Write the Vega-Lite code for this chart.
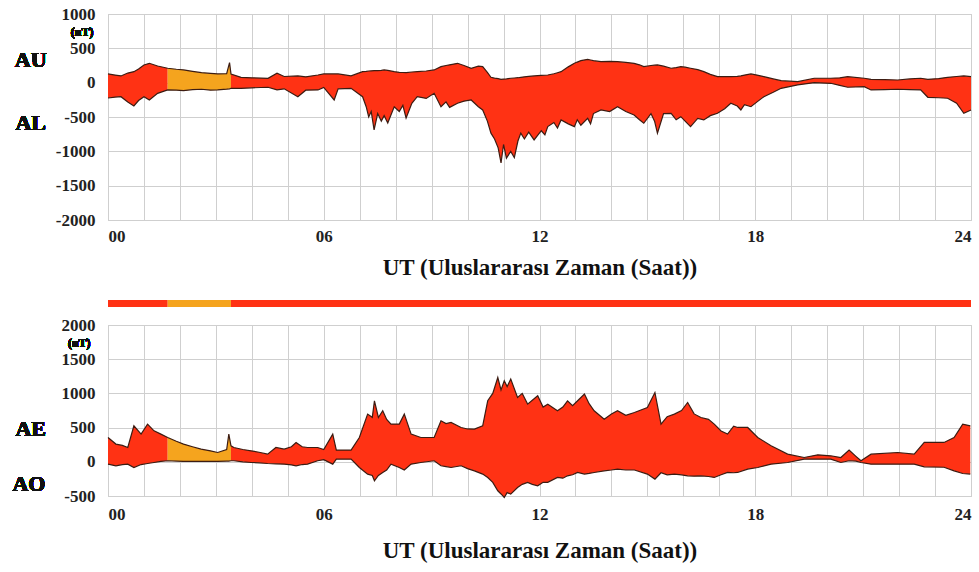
{
  "$schema": "https://vega.github.io/schema/vega-lite/v6.json",
  "background": "white",
  "padding": {"left": 11, "top": 4, "right": 5, "bottom": 5},
  "bounds": "flush",
  "spacing": 80,
  "config": {
    "view": {"stroke": "#c4c4c4"},
    "axis": {
      "domain": false, "ticks": false, "tickSize": 0, "gridColor": "#cfcfcf", "gridWidth": 1,
      "labelFont": "Liberation Serif", "labelFontWeight": "bold", "labelColor": "#222222", "labelFontSize": 17,
      "titleFont": "Liberation Serif", "titleFontWeight": "bold", "titleColor": "#111111", "titleFontSize": 23,
      "labelOverlap": false
    },
    "text": {"font": "Liberation Serif", "fontWeight": "bold", "color": "#111111"}
  },
  "datasets": {
    "au": [
      {"h": 0.0, "up": 127, "lo": -223, "seg": "r1"},
      {"h": 0.2, "up": 110, "lo": -210, "seg": "r1"},
      {"h": 0.36, "up": 98, "lo": -204, "seg": "r1"},
      {"h": 0.55, "up": 140, "lo": -280, "seg": "r1"},
      {"h": 0.72, "up": 160, "lo": -339, "seg": "r1"},
      {"h": 0.85, "up": 200, "lo": -260, "seg": "r1"},
      {"h": 1.0, "up": 258, "lo": -204, "seg": "r1"},
      {"h": 1.15, "up": 282, "lo": -252, "seg": "r1"},
      {"h": 1.38, "up": 243, "lo": -155, "seg": "r1"},
      {"h": 1.66, "up": 210, "lo": -106, "seg": "r1"},
      {"h": 1.66, "up": 210, "lo": -106, "seg": "o"},
      {"h": 1.9, "up": 195, "lo": -110, "seg": "o"},
      {"h": 2.1, "up": 185, "lo": -116, "seg": "o"},
      {"h": 2.35, "up": 165, "lo": -100, "seg": "o"},
      {"h": 2.6, "up": 146, "lo": -96, "seg": "o"},
      {"h": 2.85, "up": 135, "lo": -110, "seg": "o"},
      {"h": 3.05, "up": 127, "lo": -106, "seg": "o"},
      {"h": 3.3, "up": 130, "lo": -95, "seg": "o"},
      {"h": 3.38, "up": 291, "lo": -90, "seg": "o"},
      {"h": 3.42, "up": 127, "lo": -82, "seg": "o"},
      {"h": 3.42, "up": 127, "lo": -82, "seg": "r2"},
      {"h": 3.7, "up": 78, "lo": -82, "seg": "r2"},
      {"h": 4.0, "up": 70, "lo": -75, "seg": "r2"},
      {"h": 4.45, "up": 64, "lo": -67, "seg": "r2"},
      {"h": 4.7, "up": 137, "lo": -106, "seg": "r2"},
      {"h": 4.9, "up": 90, "lo": -90, "seg": "r2"},
      {"h": 5.28, "up": 98, "lo": -204, "seg": "r2"},
      {"h": 5.5, "up": 85, "lo": -110, "seg": "r2"},
      {"h": 5.84, "up": 112, "lo": -106, "seg": "r2"},
      {"h": 6.0, "up": 127, "lo": -70, "seg": "r2"},
      {"h": 6.29, "up": 127, "lo": -252, "seg": "r2"},
      {"h": 6.4, "up": 127, "lo": -90, "seg": "r2"},
      {"h": 6.76, "up": 98, "lo": -82, "seg": "r2"},
      {"h": 7.08, "up": 160, "lo": -204, "seg": "r2"},
      {"h": 7.18, "up": 165, "lo": -350, "seg": "r2"},
      {"h": 7.25, "up": 170, "lo": -500, "seg": "r2"},
      {"h": 7.32, "up": 172, "lo": -420, "seg": "r2"},
      {"h": 7.4, "up": 175, "lo": -689, "seg": "r2"},
      {"h": 7.5, "up": 175, "lo": -450, "seg": "r2"},
      {"h": 7.6, "up": 180, "lo": -560, "seg": "r2"},
      {"h": 7.68, "up": 185, "lo": -480, "seg": "r2"},
      {"h": 7.78, "up": 180, "lo": -587, "seg": "r2"},
      {"h": 7.96, "up": 160, "lo": -350, "seg": "r2"},
      {"h": 8.1, "up": 150, "lo": -420, "seg": "r2"},
      {"h": 8.2, "up": 148, "lo": -330, "seg": "r2"},
      {"h": 8.29, "up": 146, "lo": -514, "seg": "r2"},
      {"h": 8.45, "up": 155, "lo": -300, "seg": "r2"},
      {"h": 8.6, "up": 160, "lo": -204, "seg": "r2"},
      {"h": 8.85, "up": 170, "lo": -230, "seg": "r2"},
      {"h": 9.07, "up": 185, "lo": -155, "seg": "r2"},
      {"h": 9.26, "up": 233, "lo": -350, "seg": "r2"},
      {"h": 9.4, "up": 250, "lo": -280, "seg": "r2"},
      {"h": 9.5, "up": 260, "lo": -360, "seg": "r2"},
      {"h": 9.72, "up": 282, "lo": -300, "seg": "r2"},
      {"h": 9.9, "up": 250, "lo": -270, "seg": "r2"},
      {"h": 10.1, "up": 210, "lo": -252, "seg": "r2"},
      {"h": 10.3, "up": 240, "lo": -350, "seg": "r2"},
      {"h": 10.42, "up": 233, "lo": -398, "seg": "r2"},
      {"h": 10.55, "up": 150, "lo": -560, "seg": "r2"},
      {"h": 10.65, "up": 78, "lo": -735, "seg": "r2"},
      {"h": 10.75, "up": 65, "lo": -820, "seg": "r2"},
      {"h": 10.85, "up": 58, "lo": -950, "seg": "r2"},
      {"h": 10.93, "up": 49, "lo": -1170, "seg": "r2"},
      {"h": 11.0, "up": 52, "lo": -900, "seg": "r2"},
      {"h": 11.08, "up": 55, "lo": -1100, "seg": "r2"},
      {"h": 11.2, "up": 64, "lo": -1000, "seg": "r2"},
      {"h": 11.3, "up": 68, "lo": -1090, "seg": "r2"},
      {"h": 11.4, "up": 72, "lo": -850, "seg": "r2"},
      {"h": 11.48, "up": 78, "lo": -735, "seg": "r2"},
      {"h": 11.58, "up": 85, "lo": -820, "seg": "r2"},
      {"h": 11.7, "up": 92, "lo": -720, "seg": "r2"},
      {"h": 11.85, "up": 98, "lo": -834, "seg": "r2"},
      {"h": 12.05, "up": 105, "lo": -700, "seg": "r2"},
      {"h": 12.15, "up": 108, "lo": -760, "seg": "r2"},
      {"h": 12.23, "up": 112, "lo": -640, "seg": "r2"},
      {"h": 12.4, "up": 130, "lo": -580, "seg": "r2"},
      {"h": 12.5, "up": 145, "lo": -660, "seg": "r2"},
      {"h": 12.6, "up": 160, "lo": -543, "seg": "r2"},
      {"h": 12.8, "up": 230, "lo": -600, "seg": "r2"},
      {"h": 12.97, "up": 282, "lo": -640, "seg": "r2"},
      {"h": 13.05, "up": 300, "lo": -540, "seg": "r2"},
      {"h": 13.15, "up": 320, "lo": -620, "seg": "r2"},
      {"h": 13.34, "up": 340, "lo": -520, "seg": "r2"},
      {"h": 13.42, "up": 330, "lo": -600, "seg": "r2"},
      {"h": 13.5, "up": 320, "lo": -450, "seg": "r2"},
      {"h": 13.71, "up": 306, "lo": -397, "seg": "r2"},
      {"h": 13.95, "up": 310, "lo": -420, "seg": "r2"},
      {"h": 14.17, "up": 306, "lo": -350, "seg": "r2"},
      {"h": 14.4, "up": 295, "lo": -420, "seg": "r2"},
      {"h": 14.63, "up": 282, "lo": -470, "seg": "r2"},
      {"h": 14.78, "up": 260, "lo": -540, "seg": "r2"},
      {"h": 14.9, "up": 233, "lo": -591, "seg": "r2"},
      {"h": 15.1, "up": 250, "lo": -450, "seg": "r2"},
      {"h": 15.2, "up": 255, "lo": -560, "seg": "r2"},
      {"h": 15.28, "up": 258, "lo": -737, "seg": "r2"},
      {"h": 15.45, "up": 240, "lo": -450, "seg": "r2"},
      {"h": 15.66, "up": 210, "lo": -446, "seg": "r2"},
      {"h": 15.8, "up": 220, "lo": -540, "seg": "r2"},
      {"h": 15.93, "up": 233, "lo": -495, "seg": "r2"},
      {"h": 16.05, "up": 225, "lo": -560, "seg": "r2"},
      {"h": 16.2, "up": 210, "lo": -640, "seg": "r2"},
      {"h": 16.4, "up": 190, "lo": -520, "seg": "r2"},
      {"h": 16.57, "up": 160, "lo": -543, "seg": "r2"},
      {"h": 16.75, "up": 120, "lo": -480, "seg": "r2"},
      {"h": 16.95, "up": 87, "lo": -446, "seg": "r2"},
      {"h": 17.15, "up": 87, "lo": -380, "seg": "r2"},
      {"h": 17.32, "up": 87, "lo": -300, "seg": "r2"},
      {"h": 17.5, "up": 92, "lo": -340, "seg": "r2"},
      {"h": 17.6, "up": 98, "lo": -397, "seg": "r2"},
      {"h": 17.7, "up": 110, "lo": -320, "seg": "r2"},
      {"h": 17.88, "up": 127, "lo": -350, "seg": "r2"},
      {"h": 18.05, "up": 110, "lo": -280, "seg": "r2"},
      {"h": 18.24, "up": 87, "lo": -204, "seg": "r2"},
      {"h": 18.5, "up": 55, "lo": -140, "seg": "r2"},
      {"h": 18.72, "up": 29, "lo": -82, "seg": "r2"},
      {"h": 19.18, "up": 15, "lo": -33, "seg": "r2"},
      {"h": 19.64, "up": 64, "lo": 0, "seg": "r2"},
      {"h": 20.1, "up": 64, "lo": -9, "seg": "r2"},
      {"h": 20.35, "up": 70, "lo": -40, "seg": "r2"},
      {"h": 20.57, "up": 87, "lo": -67, "seg": "r2"},
      {"h": 21.03, "up": 64, "lo": -58, "seg": "r2"},
      {"h": 21.22, "up": 49, "lo": -106, "seg": "r2"},
      {"h": 21.6, "up": 45, "lo": -100, "seg": "r2"},
      {"h": 21.96, "up": 39, "lo": -96, "seg": "r2"},
      {"h": 22.3, "up": 55, "lo": -100, "seg": "r2"},
      {"h": 22.6, "up": 64, "lo": -106, "seg": "r2"},
      {"h": 22.8, "up": 49, "lo": -213, "seg": "r2"},
      {"h": 23.1, "up": 60, "lo": -220, "seg": "r2"},
      {"h": 23.35, "up": 78, "lo": -227, "seg": "r2"},
      {"h": 23.6, "up": 90, "lo": -300, "seg": "r2"},
      {"h": 23.8, "up": 98, "lo": -446, "seg": "r2"},
      {"h": 24.0, "up": 87, "lo": -398, "seg": "r2"}
    ],
    "ae": [
      {"h": 0.0, "up": 355, "lo": -34, "seg": "r1"},
      {"h": 0.22, "up": 259, "lo": -58, "seg": "r1"},
      {"h": 0.4, "up": 240, "lo": -40, "seg": "r1"},
      {"h": 0.55, "up": 209, "lo": -34, "seg": "r1"},
      {"h": 0.72, "up": 526, "lo": -83, "seg": "r1"},
      {"h": 0.92, "up": 405, "lo": -40, "seg": "r1"},
      {"h": 1.1, "up": 551, "lo": -25, "seg": "r1"},
      {"h": 1.28, "up": 453, "lo": -10, "seg": "r1"},
      {"h": 1.47, "up": 405, "lo": 5, "seg": "r1"},
      {"h": 1.66, "up": 355, "lo": 15, "seg": "r1"},
      {"h": 1.66, "up": 355, "lo": 15, "seg": "o"},
      {"h": 1.9, "up": 300, "lo": 10, "seg": "o"},
      {"h": 2.1, "up": 259, "lo": 5, "seg": "o"},
      {"h": 2.35, "up": 220, "lo": 5, "seg": "o"},
      {"h": 2.59, "up": 185, "lo": 5, "seg": "o"},
      {"h": 2.85, "up": 160, "lo": 8, "seg": "o"},
      {"h": 3.05, "up": 136, "lo": 5, "seg": "o"},
      {"h": 3.3, "up": 180, "lo": 10, "seg": "o"},
      {"h": 3.36, "up": 405, "lo": 10, "seg": "o"},
      {"h": 3.42, "up": 234, "lo": 15, "seg": "o"},
      {"h": 3.42, "up": 234, "lo": 15, "seg": "r2"},
      {"h": 3.5, "up": 209, "lo": 15, "seg": "r2"},
      {"h": 3.75, "up": 180, "lo": 0, "seg": "r2"},
      {"h": 3.98, "up": 161, "lo": -10, "seg": "r2"},
      {"h": 4.2, "up": 140, "lo": -15, "seg": "r2"},
      {"h": 4.44, "up": 112, "lo": -25, "seg": "r2"},
      {"h": 4.67, "up": 209, "lo": -30, "seg": "r2"},
      {"h": 4.9, "up": 185, "lo": -34, "seg": "r2"},
      {"h": 5.1, "up": 220, "lo": -45, "seg": "r2"},
      {"h": 5.23, "up": 283, "lo": -58, "seg": "r2"},
      {"h": 5.4, "up": 220, "lo": -40, "seg": "r2"},
      {"h": 5.55, "up": 209, "lo": -34, "seg": "r2"},
      {"h": 5.83, "up": 209, "lo": 15, "seg": "r2"},
      {"h": 6.0, "up": 180, "lo": 30, "seg": "r2"},
      {"h": 6.25, "up": 405, "lo": -34, "seg": "r2"},
      {"h": 6.35, "up": 171, "lo": 39, "seg": "r2"},
      {"h": 6.76, "up": 171, "lo": 39, "seg": "r2"},
      {"h": 6.99, "up": 355, "lo": -83, "seg": "r2"},
      {"h": 7.22, "up": 697, "lo": -180, "seg": "r2"},
      {"h": 7.35, "up": 650, "lo": -200, "seg": "r2"},
      {"h": 7.41, "up": 892, "lo": -278, "seg": "r2"},
      {"h": 7.52, "up": 648, "lo": -200, "seg": "r2"},
      {"h": 7.64, "up": 746, "lo": -156, "seg": "r2"},
      {"h": 7.75, "up": 620, "lo": -120, "seg": "r2"},
      {"h": 7.87, "up": 551, "lo": -34, "seg": "r2"},
      {"h": 8.1, "up": 551, "lo": -83, "seg": "r2"},
      {"h": 8.24, "up": 697, "lo": -120, "seg": "r2"},
      {"h": 8.43, "up": 405, "lo": -34, "seg": "r2"},
      {"h": 8.7, "up": 355, "lo": -10, "seg": "r2"},
      {"h": 9.07, "up": 355, "lo": 15, "seg": "r2"},
      {"h": 9.26, "up": 600, "lo": -58, "seg": "r2"},
      {"h": 9.4, "up": 560, "lo": -70, "seg": "r2"},
      {"h": 9.54, "up": 575, "lo": -83, "seg": "r2"},
      {"h": 9.82, "up": 502, "lo": -58, "seg": "r2"},
      {"h": 10.0, "up": 480, "lo": -100, "seg": "r2"},
      {"h": 10.19, "up": 478, "lo": -132, "seg": "r2"},
      {"h": 10.42, "up": 526, "lo": -180, "seg": "r2"},
      {"h": 10.56, "up": 892, "lo": -229, "seg": "r2"},
      {"h": 10.7, "up": 1000, "lo": -300, "seg": "r2"},
      {"h": 10.84, "up": 1232, "lo": -424, "seg": "r2"},
      {"h": 10.93, "up": 1050, "lo": -470, "seg": "r2"},
      {"h": 11.02, "up": 1184, "lo": -522, "seg": "r2"},
      {"h": 11.1, "up": 1100, "lo": -450, "seg": "r2"},
      {"h": 11.2, "up": 1209, "lo": -473, "seg": "r2"},
      {"h": 11.39, "up": 940, "lo": -376, "seg": "r2"},
      {"h": 11.52, "up": 1000, "lo": -330, "seg": "r2"},
      {"h": 11.67, "up": 843, "lo": -302, "seg": "r2"},
      {"h": 11.8, "up": 900, "lo": -330, "seg": "r2"},
      {"h": 11.95, "up": 965, "lo": -351, "seg": "r2"},
      {"h": 12.1, "up": 800, "lo": -300, "seg": "r2"},
      {"h": 12.23, "up": 843, "lo": -300, "seg": "r2"},
      {"h": 12.5, "up": 746, "lo": -229, "seg": "r2"},
      {"h": 12.65, "up": 800, "lo": -240, "seg": "r2"},
      {"h": 12.78, "up": 892, "lo": -205, "seg": "r2"},
      {"h": 12.92, "up": 820, "lo": -190, "seg": "r2"},
      {"h": 13.06, "up": 892, "lo": -156, "seg": "r2"},
      {"h": 13.25, "up": 990, "lo": -180, "seg": "r2"},
      {"h": 13.38, "up": 850, "lo": -170, "seg": "r2"},
      {"h": 13.52, "up": 746, "lo": -156, "seg": "r2"},
      {"h": 13.8, "up": 624, "lo": -132, "seg": "r2"},
      {"h": 14.0, "up": 700, "lo": -120, "seg": "r2"},
      {"h": 14.17, "up": 746, "lo": -107, "seg": "r2"},
      {"h": 14.4, "up": 680, "lo": -120, "seg": "r2"},
      {"h": 14.64, "up": 721, "lo": -120, "seg": "r2"},
      {"h": 15.0, "up": 794, "lo": -180, "seg": "r2"},
      {"h": 15.21, "up": 1013, "lo": -253, "seg": "r2"},
      {"h": 15.38, "up": 551, "lo": -160, "seg": "r2"},
      {"h": 15.55, "up": 660, "lo": -190, "seg": "r2"},
      {"h": 15.75, "up": 697, "lo": -180, "seg": "r2"},
      {"h": 15.95, "up": 750, "lo": -190, "seg": "r2"},
      {"h": 16.12, "up": 867, "lo": -205, "seg": "r2"},
      {"h": 16.3, "up": 700, "lo": -210, "seg": "r2"},
      {"h": 16.49, "up": 648, "lo": -205, "seg": "r2"},
      {"h": 16.7, "up": 620, "lo": -215, "seg": "r2"},
      {"h": 16.86, "up": 551, "lo": -229, "seg": "r2"},
      {"h": 17.05, "up": 450, "lo": -190, "seg": "r2"},
      {"h": 17.23, "up": 405, "lo": -156, "seg": "r2"},
      {"h": 17.4, "up": 520, "lo": -160, "seg": "r2"},
      {"h": 17.51, "up": 502, "lo": -156, "seg": "r2"},
      {"h": 17.79, "up": 502, "lo": -107, "seg": "r2"},
      {"h": 18.07, "up": 355, "lo": -83, "seg": "r2"},
      {"h": 18.44, "up": 234, "lo": -34, "seg": "r2"},
      {"h": 18.9, "up": 112, "lo": -10, "seg": "r2"},
      {"h": 19.36, "up": 63, "lo": 39, "seg": "r2"},
      {"h": 19.74, "up": 102, "lo": 39, "seg": "r2"},
      {"h": 20.1, "up": 88, "lo": 39, "seg": "r2"},
      {"h": 20.38, "up": 63, "lo": -10, "seg": "r2"},
      {"h": 20.61, "up": 171, "lo": 15, "seg": "r2"},
      {"h": 20.8, "up": 80, "lo": 10, "seg": "r2"},
      {"h": 20.94, "up": 15, "lo": -10, "seg": "r2"},
      {"h": 21.22, "up": 112, "lo": -34, "seg": "r2"},
      {"h": 21.96, "up": 136, "lo": -34, "seg": "r2"},
      {"h": 22.42, "up": 112, "lo": -34, "seg": "r2"},
      {"h": 22.7, "up": 283, "lo": -73, "seg": "r2"},
      {"h": 23.25, "up": 283, "lo": -80, "seg": "r2"},
      {"h": 23.53, "up": 355, "lo": -132, "seg": "r2"},
      {"h": 23.77, "up": 551, "lo": -171, "seg": "r2"},
      {"h": 23.98, "up": 526, "lo": -180, "seg": "r2"}
    ],
    "strip": [
      {"s": 0, "e": 1.66, "q": "r"},
      {"s": 1.66, "e": 3.42, "q": "o"},
      {"s": 3.42, "e": 24, "q": "r"}
    ]
  },
  "vconcat": [
    {
      "width": 863,
      "height": 206,
      "data": {"name": "au"},
      "layer": [
        {
          "mark": {"type": "area", "interpolate": "linear"},
          "encoding": {
            "x": {"field": "h", "type": "quantitative", "scale": {"domain": [0, 24], "nice": false, "zero": false},
              "axis": {"values": [0,1,2,3,4,5,6,7,8,9,10,11,12,13,14,15,16,17,18,19,20,21,22,23,24], "tickCount": 50, "grid": true, "labelOverlap": false,
                "labelExpr": "datum.value % 6 === 0 ? (datum.value < 10 ? '0' + datum.value : '' + datum.value) : ''",
                "labelFlush": true, "labelPadding": 8, "title": "UT (Uluslararası Zaman (Saat))", "titlePadding": 12}},
            "y": {"field": "up", "type": "quantitative", "scale": {"domain": [-2000, 1000], "nice": false, "zero": false},
              "axis": {"values": [-2000, -1500, -1000, -500, 0, 500, 1000], "tickCount": 20, "grid": true, "title": null, "labelOverlap": false,
                "labelExpr": "'' + datum.value", "labelPadding": 13, "minExtent": 60, "maxExtent": 60}},
            "y2": {"field": "lo"},
            "color": {"field": "seg", "type": "nominal", "scale": {"domain": ["r1", "o", "r2"], "range": ["#ff3214", "#f5a41e", "#ff3214"]}, "legend": null}
          }
        },
        {
          "mark": {"type": "line", "color": "#3c1c12", "strokeWidth": 1.2},
          "encoding": {"x": {"field": "h", "type": "quantitative"}, "y": {"field": "up", "type": "quantitative"}}
        },
        {
          "mark": {"type": "line", "color": "#3c1c12", "strokeWidth": 1.2},
          "encoding": {"x": {"field": "h", "type": "quantitative"}, "y": {"field": "lo", "type": "quantitative"}}
        },
        {
          "mark": {"type": "text", "text": "AU", "fontSize": 22, "align": "center", "baseline": "middle"},
          "encoding": {"x": {"datum": -2.15}, "y": {"datum": 330}}
        },
        {
          "mark": {"type": "text", "text": "AL", "fontSize": 22, "align": "center", "baseline": "middle"},
          "encoding": {"x": {"datum": -2.15}, "y": {"datum": -587}}
        },
        {
          "mark": {"type": "text", "text": "(nT)", "fontSize": 12, "align": "center", "baseline": "middle"},
          "encoding": {"x": {"datum": -0.72}, "y": {"datum": 738}}
        }
      ]
    },
    {
      "spacing": 18,
      "bounds": "flush",
      "vconcat": [
        {
          "width": 863,
          "height": 7,
          "view": {"stroke": null},
          "data": {"name": "strip"},
          "mark": "rect",
          "encoding": {
            "x": {"field": "s", "type": "quantitative", "scale": {"domain": [0, 24], "nice": false, "zero": false}, "axis": null},
            "x2": {"field": "e"},
            "y": {"datum": 0, "type": "quantitative", "scale": {"domain": [0, 1], "nice": false, "zero": false}, "axis": null},
            "y2": {"datum": 1},
            "color": {"field": "q", "type": "nominal", "scale": {"domain": ["r", "o"], "range": ["#e53a1e", "#f2a332"]}, "legend": null}
          }
        },
        {
          "width": 863,
          "height": 171,
          "data": {"name": "ae"},
          "layer": [
            {
              "mark": {"type": "area", "interpolate": "linear"},
              "encoding": {
                "x": {"field": "h", "type": "quantitative", "scale": {"domain": [0, 24], "nice": false, "zero": false},
                  "axis": {"values": [0,1,2,3,4,5,6,7,8,9,10,11,12,13,14,15,16,17,18,19,20,21,22,23,24], "tickCount": 50, "grid": true, "labelOverlap": false,
                    "labelExpr": "datum.value % 6 === 0 ? (datum.value < 10 ? '0' + datum.value : '' + datum.value) : ''",
                    "labelFlush": true, "labelPadding": 10, "title": "UT (Uluslararası Zaman (Saat))", "titlePadding": 17}},
                "y": {"field": "up", "type": "quantitative", "scale": {"domain": [-500, 2000], "nice": false, "zero": false},
                  "axis": {"values": [-500, 0, 500, 1000, 1500, 2000], "tickCount": 20, "grid": true, "title": null, "labelOverlap": false,
                    "labelExpr": "'' + datum.value", "labelPadding": 13, "minExtent": 60, "maxExtent": 60}},
                "y2": {"field": "lo"},
                "color": {"field": "seg", "type": "nominal", "scale": {"domain": ["r1", "o", "r2"], "range": ["#ff3214", "#f5a41e", "#ff3214"]}, "legend": null}
              }
            },
            {
              "mark": {"type": "line", "color": "#3c1c12", "strokeWidth": 1.2},
              "encoding": {"x": {"field": "h", "type": "quantitative"}, "y": {"field": "up", "type": "quantitative"}}
            },
            {
              "mark": {"type": "line", "color": "#3c1c12", "strokeWidth": 1.2},
              "encoding": {"x": {"field": "h", "type": "quantitative"}, "y": {"field": "lo", "type": "quantitative"}}
            },
            {
              "mark": {"type": "text", "text": "AE", "fontSize": 22, "align": "center", "baseline": "middle"},
              "encoding": {"x": {"datum": -2.15}, "y": {"datum": 482}}
            },
            {
              "mark": {"type": "text", "text": "AO", "fontSize": 22, "align": "center", "baseline": "middle"},
              "encoding": {"x": {"datum": -2.2}, "y": {"datum": -322}}
            },
            {
              "mark": {"type": "text", "text": "(nT)", "fontSize": 12, "align": "center", "baseline": "middle"},
              "encoding": {"x": {"datum": -0.8}, "y": {"datum": 1740}}
            }
          ]
        }
      ]
    }
  ]
}
